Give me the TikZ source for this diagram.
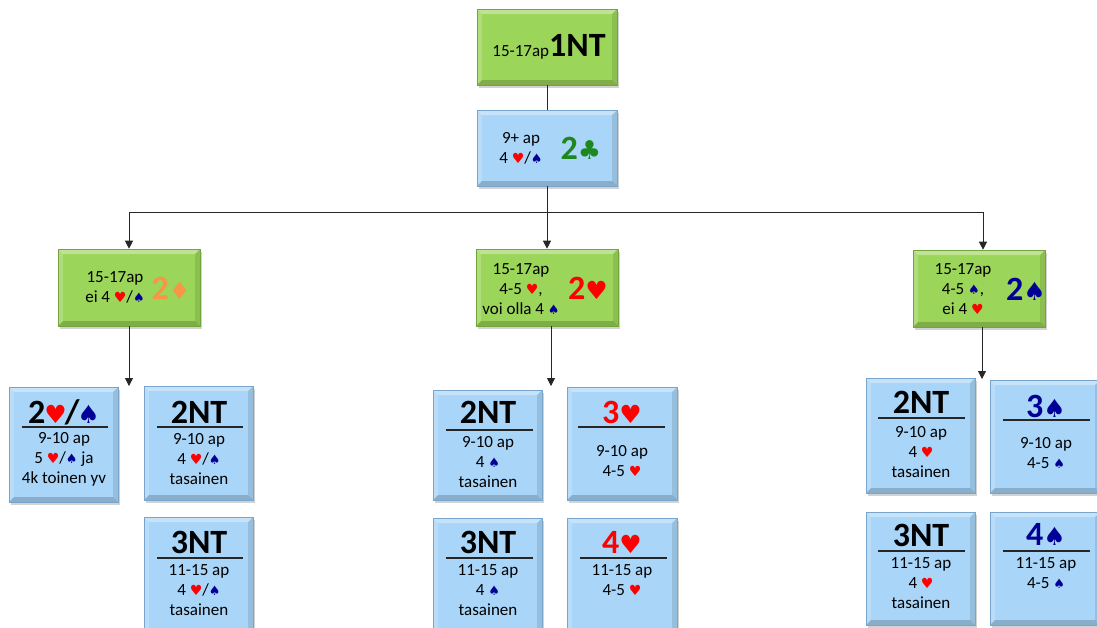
\documentclass[tikz,border=0pt]{standalone}
\usepackage{fontspec}
\setmainfont{Carlito}
\newfontfamily\symf{DejaVu Sans}
\usetikzlibrary{shadows,arrows.meta}
\definecolor{gfill}{RGB}{155,213,90}
\definecolor{gdark}{RGB}{115,165,60}
\definecolor{bfill}{RGB}{168,213,248}
\definecolor{bdark}{RGB}{120,165,205}
\definecolor{sblue}{RGB}{0,0,150}
\definecolor{cgreen}{RGB}{30,135,30}
\definecolor{dorange}{RGB}{247,150,70}
\newcommand\Hs{{\color{red}\symf\fontsize{14}{14}\selectfont ♥}}
\newcommand\Ss{{\color{sblue}\symf\fontsize{13}{14}\selectfont ♠}}
\newcommand\Hb{{\color{red}\symf\fontsize{25}{30}\selectfont ♥}}
\newcommand\Sb{{\color{sblue}\symf\fontsize{25}{30}\selectfont ♠}}
\tikzset{
  bevel/.style={path picture={
    \fill[white,opacity=.35] (path picture bounding box.north west) -- (path picture bounding box.north east) -- ([shift={(-5pt,-5pt)}]path picture bounding box.north east) -- ([shift={(5pt,-5pt)}]path picture bounding box.north west) -- cycle;
    \fill[white,opacity=.2] (path picture bounding box.north west) -- (path picture bounding box.south west) -- ([shift={(5pt,5pt)}]path picture bounding box.south west) -- ([shift={(5pt,-5pt)}]path picture bounding box.north west) -- cycle;
    \fill[black,opacity=.1] (path picture bounding box.north east) -- (path picture bounding box.south east) -- ([shift={(-5pt,5pt)}]path picture bounding box.south east) -- ([shift={(-5pt,-5pt)}]path picture bounding box.north east) -- cycle;
    \fill[black,opacity=.18] (path picture bounding box.south west) -- (path picture bounding box.south east) -- ([shift={(-5pt,5pt)}]path picture bounding box.south east) -- ([shift={(5pt,5pt)}]path picture bounding box.south west) -- cycle;
  }},
  gbox/.style={rectangle, fill=gfill, draw=gdark, line width=.6pt, bevel, inner sep=0,
    drop shadow={shadow xshift=2pt, shadow yshift=-3pt, opacity=.35}},
  bbox/.style={rectangle, fill=bfill, draw=bdark, line width=.6pt, bevel, inner sep=0,
    drop shadow={shadow xshift=2pt, shadow yshift=-3pt, opacity=.35}},
  txt/.style={font=\fontsize{17}{20}\selectfont, align=center, inner sep=0},
  big/.style={font=\fontsize{34}{36}\selectfont\bfseries, inner sep=0},
  rulel/.style={line width=1.3pt, black!85},
  con/.style={line width=.8pt, black!85},
  arr/.style={con, -{Triangle[width=8pt,length=8pt]}},
}
\begin{document}
\begin{tikzpicture}[x=1pt,y=-1pt]
\fill[white] (0,0) rectangle (1097,627);
\useasboundingbox (0,0) rectangle (1097,627);
% top
\node[gbox, minimum width=140, minimum height=76] (n1NT) at (547,47) {};
\node[inner sep=0] (t1NT) at (549,47) {{\fontsize{17}{20}\selectfont 15-17ap}{\fontsize{34}{36}\selectfont\bfseries 1NT}};
\node[bbox, minimum width=140, minimum height=76] (n2C) at (547,148) {};
\node[txt] (t2Ca) at (521,148) {9+ ap\\4 \Hs/\Ss};
\node[big, text=cgreen] (t2Cb) at (581,148) {2{\symf\fontsize{26}{30}\selectfont ♣}};
% level 2
\node[gbox, minimum width=142, minimum height=77] (nL) at (129,287.5) {};
\node[txt] (tLa) at (115,287) {15-17ap\\ei 4 \Hs/\Ss};
\node[big, text=dorange] (tLb) at (171,288) {2{\symf\fontsize{24}{30}\selectfont ♦}};
\node[gbox, minimum width=142, minimum height=77] (nM) at (547,287.5) {};
\node[txt] (tMa) at (521,289) {15-17ap\\4-5 \Hs,\\voi olla 4 \Ss};
\node[big, text=red] (tMb) at (588,288) {2\Hb};
\node[gbox, minimum width=132, minimum height=77] (nR) at (979,288.5) {};
\node[txt] (tRa) at (963,289) {15-17ap\\4-5 \Ss,\\ei 4 \Hs};
\node[big, text=sblue] (tRb) at (1026,289) {2\Sb};
% connectors
\coordinate (bus) at (547,212);
\draw[con] (n1NT) -- (n2C);
\draw[con] (n2C) -- (bus);
\draw[arr] (bus) -| (nL.north);
\draw[arr] (bus) -- (nM.north);
\draw[arr] (bus) -| ([xshift=4pt]nR.north);
\coordinate (eL) at (129,386);
\coordinate (eM) at (551,386);
\coordinate (eR) at (982,379);
\draw[arr] (nL.south) -- (eL);
\draw[arr] (nM.south -| eM) -- (eM);
\draw[arr] (nR.south -| eR) -- (eR);
% left column
\node[bbox, minimum width=109, minimum height=115] (bA) at (63.5,444.5) {};
\node[big] (tA) at (64,412) {2\kern-1pt\Hb\kern-2pt/\kern-2pt\Sb};
\draw[rulel] (22,427) -- (108,427);
\node[txt] (tAx) at (64,459) {9-10 ap\\5 \Hs/\Ss{} ja\\4k toinen yv};
\node[bbox, minimum width=109, minimum height=114] (bB) at (198.5,443) {};
\node[big] (tB) at (199,412) {2NT};
\draw[rulel] (157,427) -- (243,427);
\node[txt] (tBx) at (199,459) {9-10 ap\\4 \Hs/\Ss\\tasainen};
\node[bbox, minimum width=109, minimum height=120] (bC) at (198.5,577) {};
\node[big] (tC) at (199,542) {3NT};
\draw[rulel] (157,558) -- (243,558);
\node[txt] (tCx) at (199,590) {11-15 ap\\4 \Hs/\Ss\\tasainen};
% middle column
\node[bbox, minimum width=109, minimum height=110] (bD) at (487.5,445) {};
\node[big] (tD) at (488,412) {2NT};
\draw[rulel] (446,430) -- (533,430);
\node[txt] (tDx) at (488,462) {9-10 ap\\4 \Ss\\tasainen};
\node[bbox, minimum width=110, minimum height=113] (bE) at (622,443.5) {};
\node[big, text=red] (tE) at (622,412) {3\Hb};
\draw[rulel] (578,427) -- (665,427);
\node[txt] (tEx) at (622,461) {9-10 ap\\4-5 \Hs};
\node[bbox, minimum width=109, minimum height=119] (bF) at (487.5,577.5) {};
\node[big] (tF) at (488,542) {3NT};
\draw[rulel] (446,558) -- (533,558);
\node[txt] (tFx) at (488,590) {11-15 ap\\4 \Ss\\tasainen};
\node[bbox, minimum width=110, minimum height=119] (bG) at (622,577.5) {};
\node[big, text=red] (tG) at (622,542) {4\Hb};
\draw[rulel] (580,558) -- (667,558);
\node[txt] (tGx) at (622,580) {11-15 ap\\4-5 \Hs};
% right column
\node[bbox, minimum width=109, minimum height=115] (bH) at (920.5,435.5) {};
\node[big] (tH) at (921,402) {2NT};
\draw[rulel] (878,418) -- (965,418);
\node[txt] (tHx) at (921,452) {9-10 ap\\4 \Hs\\tasainen};
\node[bbox, minimum width=110, minimum height=113] (bI) at (1045,436.5) {};
\node[big, text=sblue] (tI) at (1046,406) {3\Sb};
\draw[rulel] (1003,420) -- (1090,420);
\node[txt] (tIx) at (1046,453) {9-10 ap\\4-5 \Ss};
\node[bbox, minimum width=109, minimum height=113] (bJ) at (920.5,568.5) {};
\node[big] (tJ) at (921,535) {3NT};
\draw[rulel] (878,551) -- (965,551);
\node[txt] (tJx) at (921,583) {11-15 ap\\4 \Hs\\tasainen};
\node[bbox, minimum width=110, minimum height=113] (bK) at (1045,568.5) {};
\node[big, text=sblue] (tK) at (1046,534) {4\Sb};
\draw[rulel] (1003,551) -- (1090,551);
\node[txt] (tKx) at (1046,573) {11-15 ap\\4-5 \Ss};
\end{tikzpicture}
\end{document}
